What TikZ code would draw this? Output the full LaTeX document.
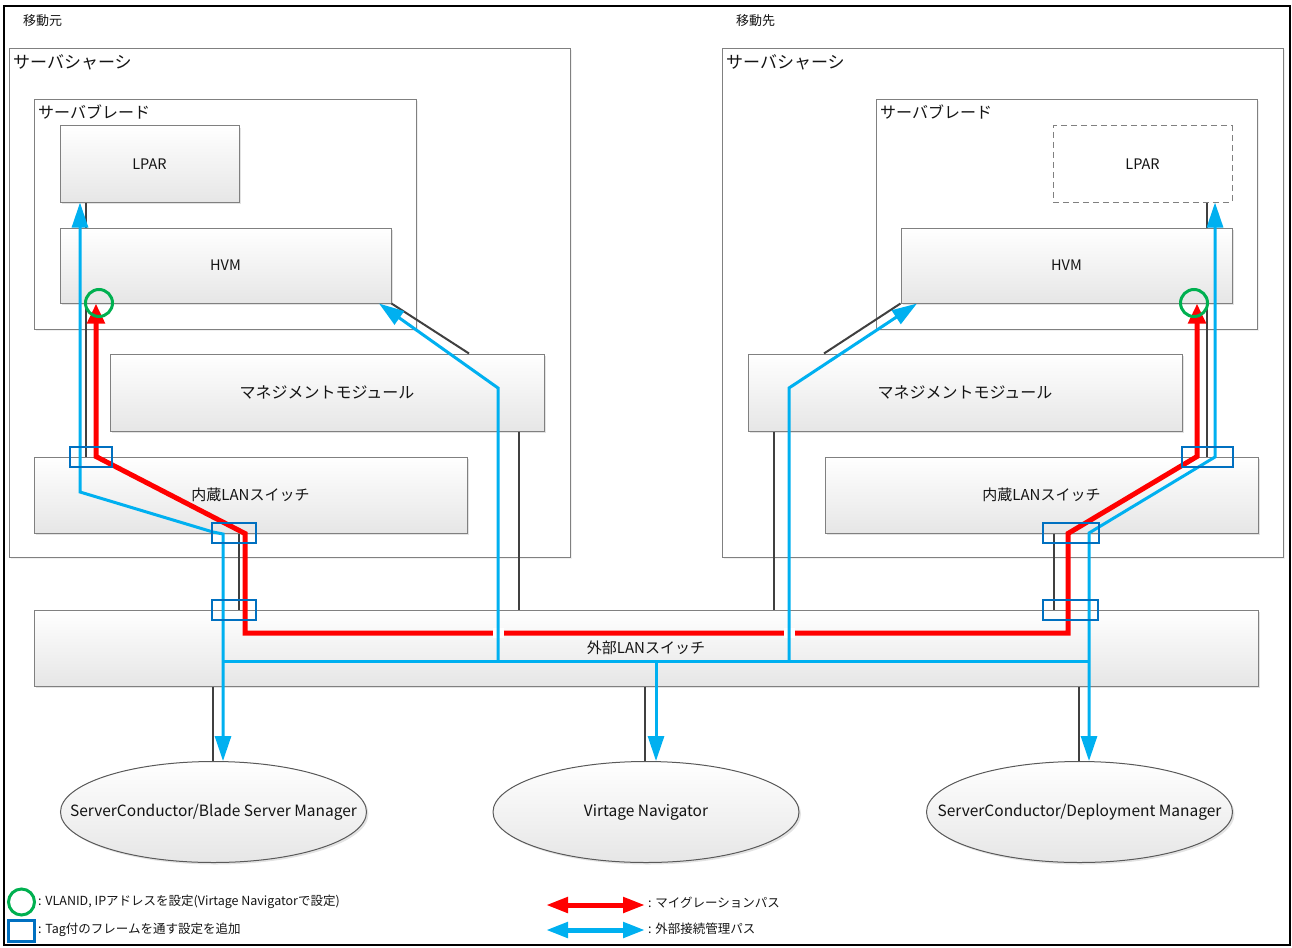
\documentclass[tikz,border=0pt]{standalone}
\usepackage{fontspec}
\setmainfont{Noto Sans CJK JP}
\usetikzlibrary{arrows.meta,shadows,shapes.geometric}
\definecolor{boxline}{HTML}{808080}
\definecolor{boxfill}{HTML}{E6E6E6}
\definecolor{elline}{HTML}{595959}
\definecolor{cablec}{HTML}{404040}
\definecolor{migred}{HTML}{FF0000}
\definecolor{mgblue}{HTML}{00B0F0}
\definecolor{tagblue}{HTML}{0070C0}
\definecolor{vlgreen}{HTML}{00B050}
\definecolor{txt}{HTML}{141414}
\newcommand\fsz[1]{\fontsize{#1}{#1}\selectfont}
\tikzset{
  boxn/.style={draw=boxline, line width=1pt, top color=white, bottom color=boxfill,
    drop shadow={shadow xshift=2pt, shadow yshift=-2pt, opacity=0.22},
    inner sep=0pt, text=txt},
  frm/.style={draw=boxline, line width=1pt, fill=white, inner sep=0pt,
    drop shadow={shadow xshift=1.5pt, shadow yshift=-1.5pt, opacity=0.12}},
  dashbox/.style={draw=boxline, line width=1pt, dash pattern=on 6pt off 4pt, fill=white,
    inner sep=0pt, text=txt},
  ell/.style={ellipse, draw=elline, line width=1pt, top color=white, bottom color=boxfill,
    drop shadow={shadow xshift=2pt, shadow yshift=-2pt, opacity=0.22},
    inner xsep=-50pt, inner ysep=0pt, minimum width=306pt, minimum height=101pt,
    text=txt, font=\fsz{15.5}},
  lbl/.style={inner sep=0pt, text=txt},
  cable/.style={draw=cablec, line width=2pt},
  migp/.style={draw=migred, line width=5pt},
  mgmtp/.style={draw=mgblue, line width=3pt},
  tagbx/.style={draw=tagblue, line width=2.5pt, inner sep=0pt},
  vlan/.style={circle, draw=vlgreen, line width=3pt, inner sep=0pt, minimum size=27pt},
  btip/.tip={Triangle[length=25pt,width=16pt]},
  rtip/.tip={Triangle[length=20pt,width=17pt]},
  ltip/.tip={Triangle[length=22pt,width=15pt]}
}
\begin{document}
\begin{tikzpicture}[x=1pt,y=-1pt]
\useasboundingbox (0,0) rectangle (1292,947);
\draw[line width=1.6pt, black] (4,6) rectangle (1290,945);

% top labels
\node[lbl, anchor=west, font=\fsz{13}] (srcT) at (23,21) {移動元};
\node[lbl, anchor=west, font=\fsz{13}] (dstT) at (736,21) {移動先};

% chassis
\node[frm, minimum width=561pt, minimum height=508pt] (chL) at (289.5,303) {};
\node[frm, minimum width=561pt, minimum height=508pt] (chR) at (1002.5,303) {};
\node[lbl, anchor=west, font=\fsz{17}] (chLt) at (13,62) {サーバシャーシ};
\node[lbl, anchor=west, font=\fsz{17}] (chRt) at (726,62) {サーバシャーシ};

% blades
\node[frm, minimum width=382pt, minimum height=229pt] (blL) at (225,214.5) {};
\node[frm, minimum width=381pt, minimum height=229pt] (blR) at (1066.5,214.5) {};
\node[lbl, anchor=west, font=\fsz{16}] (blLt) at (38,112) {サーバブレード};
\node[lbl, anchor=west, font=\fsz{16}] (blRt) at (880,112) {サーバブレード};

% LPAR / HVM
\node[boxn, minimum width=179pt, minimum height=76pt, font=\fsz{14.5}] (lparL) at (149.5,164) {LPAR};
\node[dashbox, minimum width=179pt, minimum height=76pt, font=\fsz{14.5}] (lparR) at (1142.5,164) {LPAR};
\node[boxn, minimum width=331pt, minimum height=75pt, font=\fsz{14.5}] (hvmL) at (225.5,265.5) {HVM};
\node[boxn, minimum width=331pt, minimum height=75pt, font=\fsz{14.5}] (hvmR) at (1066.5,265.5) {HVM};

% management modules
\node[boxn, minimum width=434pt, minimum height=77pt, font=\fsz{16}] (mmL) at (327,392.5) {マネジメントモジュール};
\node[boxn, minimum width=434pt, minimum height=77pt, font=\fsz{16}] (mmR) at (965,392.5) {マネジメントモジュール};

% internal LAN switches
\node[boxn, minimum width=433pt, minimum height=76pt, font=\fsz{15}] (iswL) at (250.5,495) {内蔵LANスイッチ};
\node[boxn, minimum width=433pt, minimum height=76pt, font=\fsz{15}] (iswR) at (1041.5,495) {内蔵LANスイッチ};

% external LAN switch
\node[boxn, minimum width=1224pt, minimum height=76pt, font=\fsz{15}] (esw) at (646,648) {外部LANスイッチ};

% managers
\node[ell] (ellL) at (213.5,812) {ServerConductor/Blade Server Manager};
\node[ell] (ellM) at (646,812) {Virtage Navigator};
\node[ell] (ellR) at (1079.5,812) {ServerConductor/Deployment Manager};

% physical cables
\draw[cable] (86,0 |- lparL.south) -- (86,0 |- hvmL.north);
\draw[cable] (86,0 |- hvmL.south) -- (86,0 |- iswL.north);
\draw[cable] (239,0 |- iswL.south) -- (239,0 |- esw.north);
\draw[cable] (hvmL.south east) -- (469,0 |- mmL.north);
\draw[cable] (519,0 |- mmL.south) -- (519,0 |- esw.north);
\draw[cable] (1207,0 |- lparR.south) -- (1207,0 |- hvmR.north);
\draw[cable] (1207,0 |- hvmR.south) -- (1207,0 |- iswR.north);
\draw[cable] (1054,0 |- iswR.south) -- (1054,0 |- esw.north);
\draw[cable] (hvmR.south west) -- (824,0 |- mmR.north);
\draw[cable] (774,0 |- mmR.south) -- (774,0 |- esw.north);
\draw[cable] (213,0 |- esw.south) -- (213,0 |- ellL.north);
\draw[cable] (645,0 |- esw.south) -- (645,0 |- ellM.north);
\draw[cable] (1079,0 |- esw.south) -- (1079,0 |- ellR.north);

% migration path
\draw[migp, rtip-rtip] (96,0 |- hvmL.south) -- (96,0 |- iswL.north) -- (245,0 |- iswL.south)
  -- (245,633) -- (1068,633) -- (1068,0 |- iswR.south) -- (1197,0 |- iswR.north)
  -- (1197,0 |- hvmR.south);
\fill[white] (492.5,628) rectangle (503.5,638);
\fill[white] (783.5,628) rectangle (794.5,638);

% management paths
\draw[mgmtp, btip-btip] (80,0 |- lparL.south) -- (80,492) -- (213,532) -- (223,534)
  -- (223,0 |- ellL.north);
\draw[mgmtp] (223,661) -- (1089,661);
\draw[mgmtp, -btip] (498,661) -- (498,388) -- (379,0 |- hvmL.south);
\draw[mgmtp, -btip] (789,661) -- (789,388) -- (917,0 |- hvmR.south);
\draw[mgmtp, -btip] (656,661) -- (656,0 |- ellM.north);
\draw[mgmtp, btip-btip] (1215,0 |- lparR.south) -- (1215,457) -- (1089,533)
  -- (1089,0 |- ellR.north);

% tagged frame settings
\node[tagbx, minimum width=42pt, minimum height=20pt] (tg1) at (91,457) {};
\node[tagbx, minimum width=44pt, minimum height=20pt] (tg2) at (234,533) {};
\node[tagbx, minimum width=44pt, minimum height=20pt] (tg3) at (234,610) {};
\node[tagbx, minimum width=51pt, minimum height=20pt] (tg4) at (1207.5,457) {};
\node[tagbx, minimum width=56pt, minimum height=20pt] (tg5) at (1071,533) {};
\node[tagbx, minimum width=55pt, minimum height=20pt] (tg6) at (1070.5,610) {};

% VLAN settings
\node[vlan] (vl1) at (99,303) {};
\node[vlan] (vl2) at (1194,303) {};

% legend
\node[vlan, minimum size=26pt] (lgC) at (21.5,902) {};
\node[tagbx, minimum width=26pt, minimum height=21pt] (lgT) at (21.5,931) {};
\node[lbl, anchor=west, font=\fsz{12.5}] (lgCt) at (38,902) {: VLANID, IPアドレスを設定(Virtage Navigatorで設定)};
\node[lbl, anchor=west, font=\fsz{12.5}] (lgTt) at (38,930) {: Tag付のフレームを通す設定を追加};
\coordinate (lr1) at (546,905);
\coordinate (lr2) at (645,905);
\coordinate (lb1) at (546,930);
\coordinate (lb2) at (645,930);
\draw[migp, ltip-ltip] (lr1) -- (lr2);
\draw[mgmtp, line width=5pt, ltip-ltip] (lb1) -- (lb2);
\node[lbl, anchor=west, font=\fsz{12.5}] (lgRt) at (648,903) {: マイグレーションパス};
\node[lbl, anchor=west, font=\fsz{12.5}] (lgBt) at (648,929) {: 外部接続管理パス};
\end{tikzpicture}
\end{document}
